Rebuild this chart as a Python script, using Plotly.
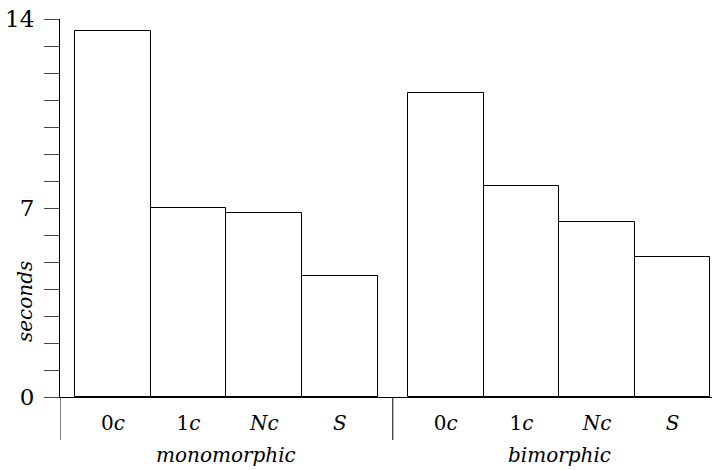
import plotly.graph_objects as go

groups = ["monomorphic", "bimorphic"]
categories = ["0<i>c</i>", "1<i>c</i>", "<i>Nc</i>", "<i>S</i>"]
mono_values = [13.54, 7.0, 6.83, 4.5]
bi_values = [11.27, 7.82, 6.48, 5.17]
y_tick_labels = ["0", "7", "14"]

FONT = "DejaVu Serif"
gap = 0.4
x_mono = [i + 0.5 for i in range(4)]
x_bi = [4 + gap + i + 0.5 for i in range(4)]

fig = go.Figure()
fig.add_trace(go.Bar(x=x_mono, y=mono_values, width=1.0,
                     marker=dict(color="white", line=dict(color="black", width=1)),
                     showlegend=False))
fig.add_trace(go.Bar(x=x_bi, y=bi_values, width=1.0,
                     marker=dict(color="white", line=dict(color="black", width=1)),
                     showlegend=False))

fig.update_layout(
    width=718, height=470,
    margin=dict(l=60, r=6, t=19, b=73),
    plot_bgcolor="white", paper_bgcolor="white",
    font=dict(family=FONT, size=20, color="black"),
    bargap=0,
)
fig.update_xaxes(
    range=[-0.2, 8.42],
    tickvals=x_mono + x_bi,
    ticktext=categories * 2,
    ticks="", showgrid=False, zeroline=False,
    showline=True, linecolor="black", linewidth=1,
    tickfont=dict(family=FONT, size=20),
    ticklabelstandoff=8,
)
fig.update_yaxes(
    range=[0, 14],
    tickvals=[0, 7, 14],
    ticktext=y_tick_labels,
    ticks="outside", ticklen=15, tickcolor="#444", tickwidth=1,
    minor=dict(tickvals=list(range(1, 14)), ticks="outside", ticklen=15,
               tickcolor="#444", tickwidth=1, showgrid=False),
    showgrid=False, zeroline=False,
    showline=True, linecolor="black", linewidth=1,
    tickfont=dict(family=FONT, size=23),
    ticklabelstandoff=5,
)

fig.add_shape(type="line", xref="x", yref="paper", x0=-0.2, x1=-0.2, y0=0, y1=-43/378,
              line=dict(color="black", width=1))
fig.add_shape(type="line", xref="x", yref="paper", x0=4 + gap / 2, x1=4 + gap / 2,
              y0=0, y1=-43/378, line=dict(color="black", width=1))

fig.add_annotation(x=2.0, y=-58/378, xref="x", yref="paper", text="<i>" + groups[0] + "</i>",
                   showarrow=False, font=dict(family=FONT, size=20), yanchor="middle")
fig.add_annotation(x=4 + gap + 2.0, y=-58/378, xref="x", yref="paper", text="<i>" + groups[1] + "</i>",
                   showarrow=False, font=dict(family=FONT, size=20), yanchor="middle")

fig.add_annotation(xref="paper", yref="paper",
                   x=(25 - 60) / (718 - 66), y=(397 - 302) / 378,
                   xanchor="center", yanchor="middle",
                   text="<i>seconds</i>", showarrow=False, textangle=-90,
                   font=dict(family=FONT, size=20))

fig.write_html("out.html")
